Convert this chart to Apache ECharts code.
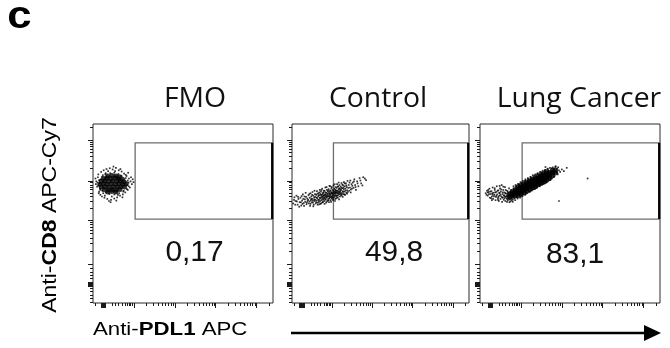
<!DOCTYPE html>
<html><head><meta charset="utf-8">
<script src="https://cdn.jsdelivr.net/npm/echarts@6/dist/echarts.min.js"></script>
<style>html,body{margin:0;padding:0;background:#fff}#c{width:670px;height:348px}</style>
</head><body><div id="c"></div>
<script>
const TITLES = ['FMO', 'Control', 'Lung Cancer'];
const PCTS = ['0,17', '49,8', '83,1'];
const X_RANGE = [2.0, 6.4];
const Y_RANGE = [1.98, 6.35];
const X_MAJOR = [2.19, 2.21, 2.23, 2.25, 2.27, 2.29, 2.31, 3, 4, 5, 6];
const X_MINOR_LOW = [2.06, 2.47, 2.55, 2.62, 2.71, 2.80, 2.84, 2.88, 2.92, 2.96];
const Y_MAJOR = [2.40, 2.42, 2.44, 2.46, 2.48, 2.92, 4, 4.96, 5.96];
const Y_MINOR_LOW = [2.01, 2.09, 2.18, 2.26, 2.34, 2.58, 2.66, 2.74, 2.83];
const LOG_OFFSETS = [0.301, 0.477, 0.602, 0.699, 0.778, 0.845, 0.903, 0.954];
const GATE_X = [3.03, 6.38];
const GATE_Y = [4.03, 5.89];

const FMO_CORE = [
[2.36,5.08],[2.46,5.09],[2.56,5.08],[2.64,5.06],
[2.26,5.02],[2.34,5.03],[2.44,5.02],[2.54,5.03],[2.63,5.01],[2.72,5.00],
[2.20,4.95],[2.29,4.96],[2.38,4.95],[2.48,4.96],[2.58,4.95],[2.67,4.96],[2.76,4.94],
[2.17,4.88],[2.26,4.89],[2.35,4.88],[2.45,4.89],[2.55,4.88],[2.64,4.89],[2.73,4.88],[2.81,4.89],
[2.20,4.81],[2.29,4.82],[2.39,4.81],[2.49,4.82],[2.59,4.81],[2.68,4.82],[2.77,4.81],
[2.27,4.75],[2.37,4.74],[2.47,4.75],[2.57,4.74],[2.66,4.75],
[2.36,4.69],[2.46,4.70],[2.56,4.69]
];
const FMO_DOTS = [
[2.08,4.95],[2.10,4.82],[2.12,5.05],[2.07,4.88],[2.15,4.70],[2.13,5.12],[2.18,4.62],[2.20,5.18],[2.22,4.58],[2.26,5.22],
[2.28,4.55],[2.33,5.25],[2.35,4.52],[2.41,5.27],[2.44,4.50],[2.48,5.24],[2.52,4.53],[2.56,5.28],[2.59,4.56],[2.63,5.22],
[2.66,4.60],[2.70,5.19],[2.73,4.63],[2.76,5.14],[2.79,4.68],[2.82,5.08],[2.85,4.74],[2.88,5.02],[2.90,4.80],[2.92,4.95],
[2.95,4.88],[2.97,5.00],[2.87,4.92],[2.84,4.86],[2.80,5.11],[2.17,4.77],[2.19,5.00],[2.25,4.66],[2.31,5.15],[2.46,4.58],
[2.61,4.62],[2.69,5.09],[2.37,5.20],[2.54,5.20],[2.75,4.72],[2.11,4.92],[2.24,5.10],[2.57,4.48],[2.39,4.47],[2.99,4.93],
[2.93,5.05],[2.06,5.02],[2.14,4.66],[2.29,4.60],[2.67,5.25],[2.50,5.31],[2.43,4.44],[2.72,4.56],[2.86,5.16],
[2.15,4.98],[2.13,4.85],[2.18,4.74],[2.22,5.06],[2.30,5.12],[2.42,5.15],[2.52,5.16],[2.62,5.13],[2.70,5.07],[2.80,5.03],
[2.85,4.97],[2.87,4.83],[2.83,4.76],[2.74,4.70],[2.64,4.66],[2.52,4.63],[2.40,4.64],[2.31,4.68],[2.23,4.72],[2.16,4.90]
];
const CTRL_DOTS = [
[2.03,4.41],[2.06,4.56],[2.09,4.47],
[2.11,4.60],[2.14,4.38],[2.16,4.52],[2.19,4.44],
[2.21,4.55],[2.23,4.36],[2.25,4.48],[2.27,4.63],[2.29,4.42],
[2.31,4.58],[2.33,4.45],[2.34,4.67],[2.36,4.39],[2.38,4.53],[2.39,4.47],
[2.41,4.61],[2.42,4.41],[2.44,4.55],[2.45,4.35],[2.46,4.66],[2.47,4.49],[2.48,4.58],[2.49,4.44],
[2.50,4.52],[2.51,4.69],[2.52,4.43],[2.53,4.60],[2.54,4.38],[2.55,4.56],[2.56,4.47],[2.57,4.64],[2.58,4.50],[2.59,4.41],
[2.60,4.62],[2.61,4.48],[2.62,4.71],[2.63,4.54],[2.64,4.43],[2.65,4.58],[2.66,4.66],[2.67,4.50],[2.68,4.39],[2.68,4.61],[2.69,4.55],[2.69,4.74],
[2.70,4.47],[2.71,4.64],[2.72,4.56],[2.72,4.70],[2.73,4.42],[2.74,4.60],[2.75,4.52],[2.75,4.77],[2.76,4.63],[2.77,4.45],[2.77,4.58],[2.78,4.68],[2.79,4.50],[2.79,4.61],
[2.80,4.55],[2.81,4.72],[2.81,4.47],[2.82,4.63],[2.83,4.58],[2.83,4.80],[2.84,4.51],[2.85,4.67],[2.85,4.43],[2.86,4.60],[2.87,4.74],[2.87,4.55],[2.88,4.65],[2.89,4.49],[2.89,4.70],
[2.90,4.59],[2.91,4.76],[2.91,4.52],[2.92,4.67],[2.92,4.44],[2.93,4.62],[2.94,4.71],[2.94,4.56],[2.95,4.83],[2.96,4.64],[2.96,4.49],[2.97,4.69],[2.98,4.58],[2.98,4.78],[2.99,4.53],[2.99,4.66],
[3.00,4.61],[3.01,4.74],[3.01,4.55],[3.02,4.69],[3.03,4.85],[3.03,4.50],[3.04,4.64],[3.05,4.77],[3.05,4.58],[3.06,4.70],[3.07,4.47],[3.07,4.66],[3.08,4.81],[3.09,4.60],[3.09,4.73],[3.10,4.54],
[3.10,4.68],[3.11,4.79],[3.12,4.61],[3.12,4.88],[3.13,4.72],[3.14,4.55],[3.14,4.66],[3.15,4.83],[3.16,4.63],[3.16,4.75],[3.17,4.51],[3.18,4.70],[3.18,4.86],[3.19,4.64],[3.19,4.77],
[3.20,4.69],[3.21,4.82],[3.22,4.60],[3.22,4.74],[3.23,4.91],[3.24,4.66],[3.25,4.78],[3.26,4.57],[3.26,4.71],[3.27,4.85],[3.28,4.64],[3.29,4.76],[3.29,4.93],
[3.30,4.70],[3.31,4.83],[3.32,4.62],[3.33,4.77],[3.34,4.90],[3.35,4.67],[3.36,4.81],[3.37,4.73],[3.38,4.96],[3.39,4.69],
[3.41,4.86],[3.42,4.72],[3.44,4.80],[3.45,4.97],[3.46,4.68],[3.48,4.88],[3.49,4.77],
[3.51,4.92],[3.53,4.79],[3.55,5.00],[3.57,4.86],[3.59,4.74],
[3.62,4.95],[3.65,4.83],[3.68,5.03],
[3.72,4.90],[3.77,5.05],
[3.84,4.98],
[2.05,4.50],[2.08,4.38],[2.12,4.46],[2.15,4.57],[2.18,4.33],[2.22,4.44],[2.24,4.59],[2.26,4.40],[2.28,4.52],[2.30,4.35],
[2.32,4.51],[2.35,4.57],[2.37,4.43],[2.40,4.50],[2.43,4.64],[2.44,4.46],[2.46,4.40],[2.48,4.52],[2.50,4.62],[2.52,4.48],
[2.53,4.34],[2.55,4.51],[2.56,4.72],[2.58,4.57],[2.60,4.44],[2.61,4.55],[2.63,4.65],[2.64,4.38],[2.65,4.50],[2.66,4.61],
[2.67,4.45],[2.68,4.68],[2.70,4.53],[2.71,4.40],[2.72,4.62],[2.73,4.74],[2.74,4.49],[2.75,4.57],[2.76,4.44],[2.77,4.66],
[2.78,4.54],[2.79,4.72],[2.80,4.60],[2.81,4.40],[2.82,4.53],[2.83,4.68],[2.84,4.62],[2.85,4.56],[2.86,4.81],[2.87,4.46],
[2.88,4.59],[2.89,4.64],[2.90,4.72],[2.91,4.48],[2.92,4.58],[2.93,4.54],[2.93,4.84],[2.94,4.65],[2.95,4.60],[2.96,4.73],
[2.97,4.45],[2.97,4.56],[2.98,4.67],[2.99,4.81],[3.00,4.57],[3.01,4.66],[3.02,4.50],[3.02,4.62],[3.03,4.72],[3.04,4.55],
[3.05,4.68],[3.06,4.88],[3.06,4.60],[3.07,4.75],[3.08,4.52],[3.08,4.64],[3.09,4.69],[3.11,4.58],[3.11,4.72],[3.12,4.66],
[3.13,4.82],[3.14,4.60],[3.15,4.70],[3.16,4.92],[3.17,4.67],[3.17,4.78],[3.19,4.58],[3.20,4.73],[3.21,4.65],[3.23,4.79],
[3.24,4.62],[3.25,4.87],[3.27,4.69],[3.28,4.80],[3.30,4.63],[3.31,4.90],[3.33,4.72],[3.35,4.85],[3.37,4.65],[3.40,4.79],
[3.43,4.92],[3.46,4.75],[3.50,4.84],[3.54,4.95],[3.58,4.81],[3.63,4.90],[3.70,4.97],[3.75,4.85],[3.81,5.02]
];
const LUNG_CORE = [
[2.72,4.57],[2.72,4.63],
[2.79,4.59],[2.79,4.64],[2.79,4.69],
[2.86,4.60],[2.86,4.65],[2.86,4.70],[2.86,4.74],
[2.93,4.61],[2.93,4.66],[2.93,4.71],[2.93,4.76],[2.93,4.81],
[3.00,4.65],[3.00,4.70],[3.00,4.75],[3.00,4.80],[3.00,4.85],
[3.07,4.68],[3.07,4.73],[3.07,4.78],[3.07,4.83],[3.07,4.88],
[3.14,4.72],[3.14,4.77],[3.14,4.82],[3.14,4.87],[3.14,4.92],
[3.21,4.76],[3.21,4.81],[3.21,4.86],[3.21,4.91],[3.21,4.96],
[3.28,4.80],[3.28,4.85],[3.28,4.90],[3.28,4.95],[3.28,5.00],
[3.35,4.83],[3.35,4.88],[3.35,4.93],[3.35,4.98],[3.35,5.03],
[3.42,4.87],[3.42,4.92],[3.42,4.97],[3.42,5.02],[3.42,5.07],
[3.49,4.91],[3.49,4.96],[3.49,5.01],[3.49,5.06],[3.49,5.11],
[3.56,4.94],[3.56,4.99],[3.56,5.04],[3.56,5.09],[3.56,5.14],
[3.63,4.98],[3.63,5.03],[3.63,5.08],[3.63,5.13],[3.63,5.18],
[3.70,5.04],[3.70,5.10],[3.70,5.16],
[3.77,5.10],[3.77,5.16],[3.77,5.21],
[3.84,5.16],[3.84,5.22]
];
const LUNG_DOTS = [
[2.14,4.66],[2.17,4.72],[2.19,4.60],[2.21,4.69],[2.23,4.77],[2.24,4.55],[2.26,4.64],[2.28,4.71],[2.29,4.58],[2.31,4.80],
[2.32,4.52],[2.33,4.67],[2.35,4.62],[2.36,4.74],[2.38,4.49],[2.39,4.57],[2.40,4.69],[2.41,4.83],[2.42,4.63],[2.44,4.54],
[2.45,4.73],[2.46,4.47],[2.47,4.60],[2.48,4.66],[2.49,4.78],[2.50,4.52],[2.51,4.70],[2.52,4.58],[2.53,4.86],[2.54,4.45],
[2.55,4.64],[2.56,4.55],[2.57,4.74],[2.58,4.50],[2.59,4.61],[2.60,4.68],[2.61,4.81],[2.62,4.47],[2.63,4.57],[2.64,4.65],
[2.65,4.53],[2.66,4.72],[2.67,4.60],[2.68,4.49],[2.69,4.67],[2.70,4.55],[2.71,4.78],[2.72,4.51],[2.73,4.69],[2.74,4.46],
[2.75,4.62],[2.76,4.74],[2.77,4.52],[2.78,4.56],[2.80,4.50],[2.82,4.78],[2.84,4.53],[2.88,4.82],[2.90,4.56],[2.95,4.87],
[2.97,4.60],[3.02,4.92],[3.05,4.63],[3.10,4.96],[3.12,4.67],[3.18,5.00],[3.20,4.70],[3.25,5.04],[3.30,4.76],[3.33,5.09],
[3.38,4.80],[3.40,5.13],[3.45,4.84],[3.50,5.17],[3.54,4.88],[3.58,5.21],[3.62,4.92],[3.66,5.25],[3.72,4.98],[3.75,5.27],
[3.80,5.05],[3.88,5.26],[3.90,5.12],[3.93,5.22],[3.96,5.18],[4.00,5.24],[4.05,5.20],[4.12,5.28],[3.93,4.47],[4.63,5.02],
[3.60,5.30],[3.85,5.32],
[2.80,4.45],[2.82,4.83],[2.86,4.49],[2.87,4.86],[2.92,4.53],[2.93,4.89],[2.98,4.55],[2.99,4.93],[3.00,4.58],[3.04,4.59],
[3.05,4.96],[3.10,4.62],[3.11,5.00],[3.12,4.64],[3.16,4.66],[3.17,5.03],[3.22,4.69],[3.23,5.06],[3.24,4.72],[3.28,4.73],
[3.29,5.10],[3.34,4.76],[3.35,5.12],[3.36,4.78],[3.40,4.80],[3.41,5.15],[3.46,4.83],[3.47,5.18],[3.48,4.86],[3.52,4.87],
[3.53,5.21],[3.58,4.90],[3.59,5.23],[3.64,4.94],[3.65,5.26],[3.70,4.98],[3.71,5.28],[3.76,5.02],[3.78,5.29],[3.82,5.07],
[3.84,5.30],[3.89,5.15],[3.91,5.29],
[2.90,4.62],[2.96,4.85],[3.03,4.66],[3.10,4.92],[3.17,4.74],[3.24,4.99],[3.31,4.80],[3.38,5.06],[3.45,4.88],[3.52,5.13],
[3.59,4.95],[3.66,5.19],[3.73,5.03],[3.80,5.25],
[2.16,4.62],[2.20,4.74],[2.22,4.64],[2.25,4.70],[2.27,4.54],[2.30,4.66],[2.34,4.58],[2.37,4.68],[2.40,4.60],[2.43,4.72],
[2.45,4.57],[2.47,4.67],[2.50,4.62],[2.52,4.75],[2.54,4.56],[2.56,4.68],[2.58,4.60],[2.60,4.54],[2.62,4.66],[2.63,4.74],
[2.65,4.59],[2.67,4.52],[2.68,4.70],[2.70,4.62],[2.72,4.44],[2.73,4.58],[2.75,4.70],[2.77,4.48],[2.78,4.66],[2.80,4.58],
[2.44,4.50],[2.36,4.78],[2.29,4.49],[2.57,4.82],[2.66,4.45],[2.48,4.84],[2.19,4.68],[2.31,4.62],[2.61,4.58],[2.74,4.53]
];

const PANELS = [
  {core: FMO_CORE, coreSize: 5, dots: FMO_DOTS},
  {core: [], coreSize: 0, dots: CTRL_DOTS},
  {core: LUNG_CORE, coreSize: 5.5, dots: LUNG_DOTS}
];
const GRID_POS = [
  {left: 93, top: 124, width: 180, height: 179},
  {left: 292, top: 124, width: 177, height: 179},
  {left: 480, top: 124, width: 180, height: 179}
];

function decadeMinors(majors, extraLow, lo, hi) {
  const out = extraLow.slice();
  const decs = majors.filter(v => v >= 2.9);
  for (let i = 0; i < decs.length; i++) {
    const span = i + 1 < decs.length ? decs[i + 1] - decs[i] : 1;
    LOG_OFFSETS.forEach(o => { const v = decs[i] + o * span; if (v > lo && v < hi) out.push(v); });
  }
  return out;
}
const X_MINOR = decadeMinors(X_MAJOR, X_MINOR_LOW, X_RANGE[0], X_RANGE[1]);
const Y_MINOR = decadeMinors(Y_MAJOR, Y_MINOR_LOW, Y_RANGE[0], Y_RANGE[1]);

const tickColor = '#1a1a1a';
function axis(kind, gi, vals, len) {
  const r = kind === 'x' ? X_RANGE : Y_RANGE;
  return {
    type: 'value', gridIndex: gi, min: r[0], max: r[1],
    position: kind === 'x' ? 'bottom' : 'left',
    axisLine: {show: false}, splitLine: {show: false}, axisLabel: {show: false},
    axisTick: {show: true, inside: false, length: len, customValues: vals, lineStyle: {color: tickColor, width: 1}}
  };
}
const grids = [], xAxes = [], yAxes = [], series = [];
GRID_POS.forEach((g, i) => {
  grids.push(Object.assign({show: true, borderColor: '#2a2a2a', borderWidth: 1, backgroundColor: 'transparent', containLabel: false}, g));
  xAxes.push(axis('x', i, X_MAJOR, 5), axis('x', i, X_MINOR, 3));
  yAxes.push(axis('y', i, Y_MAJOR, 5), axis('y', i, Y_MINOR, 3));
  const p = PANELS[i];
  series.push({
    type: 'scatter', xAxisIndex: 2 * i, yAxisIndex: 2 * i, data: p.dots,
    symbol: 'rect', symbolSize: 1.7, itemStyle: {color: '#000'}, silent: true
  });
  if (p.core.length) series.push({
    type: 'scatter', xAxisIndex: 2 * i, yAxisIndex: 2 * i, data: p.core,
    symbol: 'circle', symbolSize: p.coreSize, itemStyle: {color: '#000'}, silent: true
  });
  series.push({
    type: 'line', xAxisIndex: 2 * i, yAxisIndex: 2 * i, symbol: 'none', silent: true,
    data: [[GATE_X[1], GATE_Y[0]], [GATE_X[1], GATE_Y[1]]],
    lineStyle: {color: '#000', width: 2.2},
    markArea: {silent: true, itemStyle: {color: 'rgba(0,0,0,0)', borderColor: '#6e6e6e', borderWidth: 1.3},
      data: [[{coord: [GATE_X[0], GATE_Y[0]]}, {coord: [GATE_X[1], GATE_Y[1]]}]]}
  });
});

const TITLE_X = [195, 378, 579];
const PCT_POS = [[194.5, 253], [394, 253], [575, 255]];
const graphic = [
  {type: 'text', x: 19.5, y: 17, scaleX: 1.12, style: {text: 'c', x: 0, y: 0, fontSize: 39, fontWeight: 'bold', fontFamily: 'Liberation Sans', fill: '#000', align: 'center', verticalAlign: 'middle'}},
  {type: 'text', x: 93, y: 330, scaleX: 1.17, style: {text: 'Anti-{b|PDL1} APC', x: 0, y: 0, fontSize: 19, fontFamily: 'Liberation Sans', fill: '#000', align: 'left', verticalAlign: 'middle', rich: {b: {fontWeight: 'bold', fontSize: 19, fontFamily: 'Liberation Sans'}}}},
  {type: 'text', x: 50.5, y: 215, rotation: Math.PI / 2, scaleX: 1.15, style: {text: 'Anti-{b|CD8} APC-Cy7', x: 0, y: 0, fontSize: 20, fontFamily: 'Liberation Sans', fill: '#000', align: 'center', verticalAlign: 'middle', rich: {b: {fontWeight: 'bold', fontSize: 20, fontFamily: 'Liberation Sans'}}}},
  {type: 'line', shape: {x1: 291, y1: 333, x2: 648, y2: 333}, style: {stroke: '#000', lineWidth: 2.5}},
  {type: 'polygon', shape: {points: [[644, 325], [661, 333], [644, 341]]}, style: {fill: '#000'}}
];
TITLES.forEach((t, i) => graphic.push({type: 'text', x: TITLE_X[i], y: 99, scaleX: 1.05,
  style: {text: t, x: 0, y: 0, fontSize: 27, fontFamily: 'Open Sans', fill: '#111', align: 'center', verticalAlign: 'middle'}}));
PCTS.forEach((t, i) => graphic.push({type: 'text', x: PCT_POS[i][0], y: PCT_POS[i][1], scaleX: 1.03,
  style: {text: t, x: 0, y: 0, fontSize: 29, fontFamily: 'Liberation Sans', fill: '#111', align: 'center', verticalAlign: 'middle'}}));

const chart = echarts.init(document.getElementById('c'), null, {renderer: 'canvas'});
chart.setOption({animation: false, backgroundColor: '#fff', grid: grids, xAxis: xAxes, yAxis: yAxes, series, graphic});
</script></body></html>
